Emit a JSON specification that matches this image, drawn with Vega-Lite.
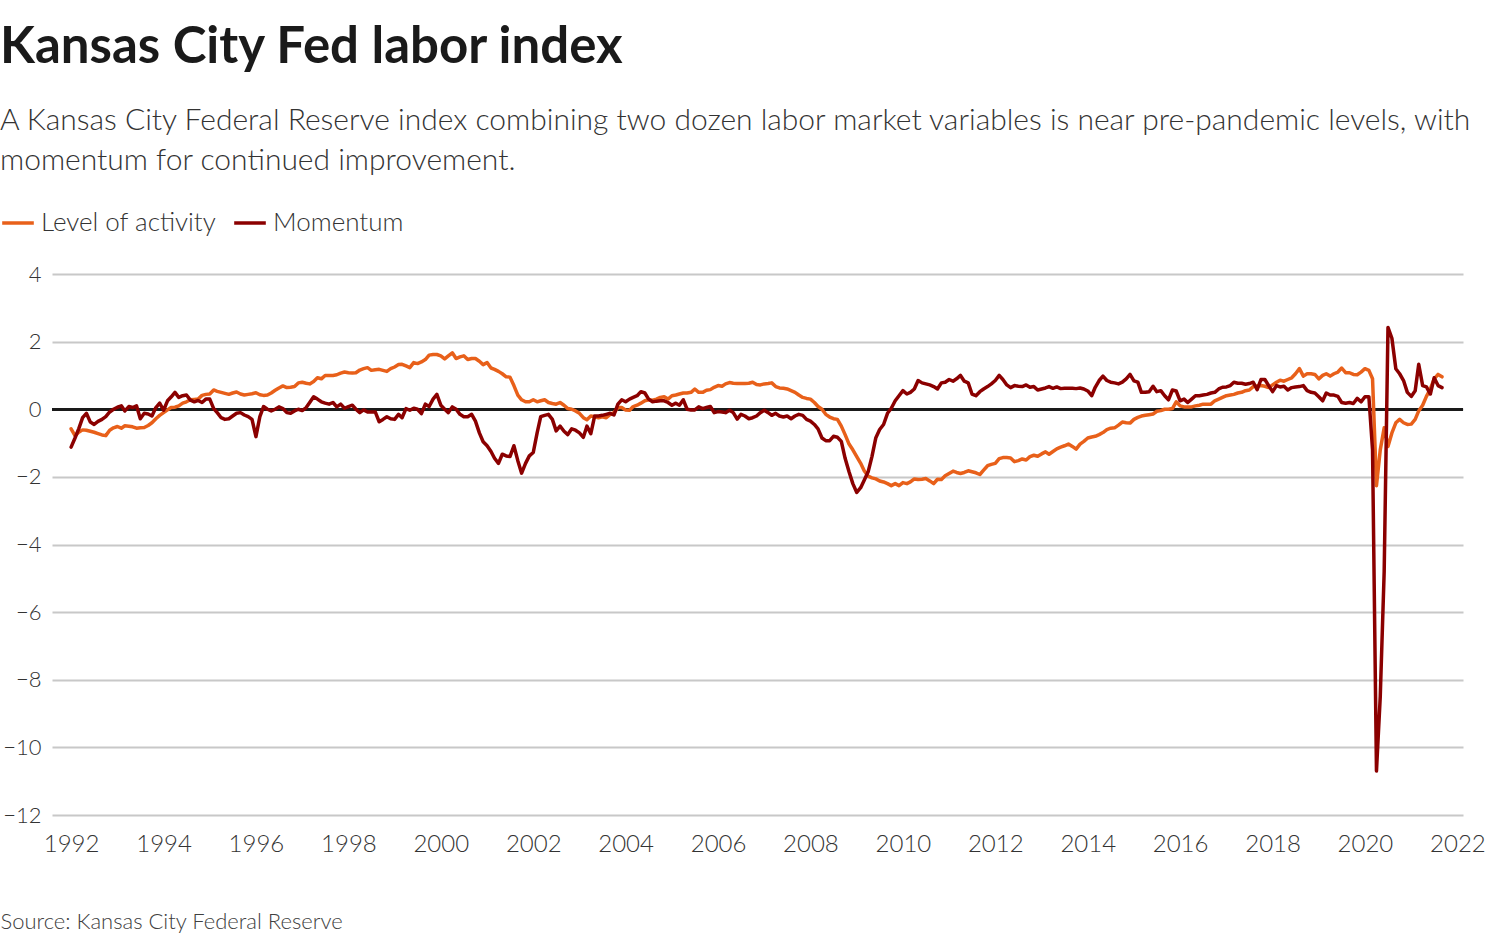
{
  "$schema": "https://vega.github.io/schema/vega-lite/v6.json",
  "autosize": {"type": "none"},
  "width": 1411,
  "height": 541,
  "padding": {"left": 52, "top": 274, "right": 27, "bottom": 123},
  "background": "white",
  "config": {
    "font": "Lato",
    "view": {"stroke": null},
    "axis": {"labelFont": "Lato", "labelFontWeight": 300, "labelColor": "#333333", "labelFontSize": 24, "ticks": false, "domain": false},
    "legend": {"labelFont": "Lato", "labelFontWeight": 300}
  },
  "title": {
    "text": "Kansas City Fed labor index",
    "subtitle": ["A Kansas City Federal Reserve index combining two dozen labor market variables is near pre-pandemic levels, with", "momentum for continued improvement."],
    "anchor": "start",
    "frame": "group",
    "orient": "top",
    "dx": -52,
    "offset": 28,
    "font": "Lato",
    "fontSize": 51,
    "fontWeight": "bold",
    "color": "#1a1a1a",
    "subtitleFont": "Lato",
    "subtitleFontSize": 30,
    "subtitleFontWeight": 300,
    "subtitleColor": "#333333",
    "subtitleLineHeight": 40,
    "subtitlePadding": 32
  },
  "datasets": {
    "kc": [
      {"date":"1992-01","Level of activity":-0.58,"Momentum":-1.12},
      {"date":"1992-02","Level of activity":-0.78,"Momentum":-0.85},
      {"date":"1992-03","Level of activity":-0.68,"Momentum":-0.58},
      {"date":"1992-04","Level of activity":-0.61,"Momentum":-0.25},
      {"date":"1992-05","Level of activity":-0.62,"Momentum":-0.12},
      {"date":"1992-06","Level of activity":-0.65,"Momentum":-0.38},
      {"date":"1992-07","Level of activity":-0.68,"Momentum":-0.45},
      {"date":"1992-08","Level of activity":-0.72,"Momentum":-0.36},
      {"date":"1992-09","Level of activity":-0.76,"Momentum":-0.3},
      {"date":"1992-10","Level of activity":-0.78,"Momentum":-0.22},
      {"date":"1992-11","Level of activity":-0.62,"Momentum":-0.08},
      {"date":"1992-12","Level of activity":-0.55,"Momentum":0.0},
      {"date":"1993-01","Level of activity":-0.51,"Momentum":0.06},
      {"date":"1993-02","Level of activity":-0.56,"Momentum":0.1},
      {"date":"1993-03","Level of activity":-0.49,"Momentum":-0.05},
      {"date":"1993-04","Level of activity":-0.5,"Momentum":0.08},
      {"date":"1993-05","Level of activity":-0.52,"Momentum":0.05},
      {"date":"1993-06","Level of activity":-0.56,"Momentum":0.1},
      {"date":"1993-07","Level of activity":-0.55,"Momentum":-0.28},
      {"date":"1993-08","Level of activity":-0.54,"Momentum":-0.12},
      {"date":"1993-09","Level of activity":-0.48,"Momentum":-0.14},
      {"date":"1993-10","Level of activity":-0.4,"Momentum":-0.2},
      {"date":"1993-11","Level of activity":-0.28,"Momentum":0.05},
      {"date":"1993-12","Level of activity":-0.18,"Momentum":0.18},
      {"date":"1994-01","Level of activity":-0.1,"Momentum":-0.03},
      {"date":"1994-02","Level of activity":-0.02,"Momentum":0.25},
      {"date":"1994-03","Level of activity":0.05,"Momentum":0.36},
      {"date":"1994-04","Level of activity":0.06,"Momentum":0.5},
      {"date":"1994-05","Level of activity":0.1,"Momentum":0.35},
      {"date":"1994-06","Level of activity":0.18,"Momentum":0.4},
      {"date":"1994-07","Level of activity":0.22,"Momentum":0.42},
      {"date":"1994-08","Level of activity":0.28,"Momentum":0.27},
      {"date":"1994-09","Level of activity":0.29,"Momentum":0.22},
      {"date":"1994-10","Level of activity":0.3,"Momentum":0.26},
      {"date":"1994-11","Level of activity":0.41,"Momentum":0.2},
      {"date":"1994-12","Level of activity":0.44,"Momentum":0.3},
      {"date":"1995-01","Level of activity":0.45,"Momentum":0.3},
      {"date":"1995-02","Level of activity":0.57,"Momentum":0.02},
      {"date":"1995-03","Level of activity":0.53,"Momentum":-0.1},
      {"date":"1995-04","Level of activity":0.5,"Momentum":-0.25},
      {"date":"1995-05","Level of activity":0.47,"Momentum":-0.3},
      {"date":"1995-06","Level of activity":0.44,"Momentum":-0.28},
      {"date":"1995-07","Level of activity":0.48,"Momentum":-0.2},
      {"date":"1995-08","Level of activity":0.51,"Momentum":-0.12},
      {"date":"1995-09","Level of activity":0.45,"Momentum":-0.1},
      {"date":"1995-10","Level of activity":0.42,"Momentum":-0.17},
      {"date":"1995-11","Level of activity":0.44,"Momentum":-0.22},
      {"date":"1995-12","Level of activity":0.46,"Momentum":-0.3},
      {"date":"1996-01","Level of activity":0.49,"Momentum":-0.81},
      {"date":"1996-02","Level of activity":0.43,"Momentum":-0.22},
      {"date":"1996-03","Level of activity":0.41,"Momentum":0.08},
      {"date":"1996-04","Level of activity":0.42,"Momentum":0.0},
      {"date":"1996-05","Level of activity":0.48,"Momentum":-0.05},
      {"date":"1996-06","Level of activity":0.56,"Momentum":0.0},
      {"date":"1996-07","Level of activity":0.63,"Momentum":0.07},
      {"date":"1996-08","Level of activity":0.69,"Momentum":0.02},
      {"date":"1996-09","Level of activity":0.64,"Momentum":-0.1},
      {"date":"1996-10","Level of activity":0.65,"Momentum":-0.12},
      {"date":"1996-11","Level of activity":0.67,"Momentum":-0.05},
      {"date":"1996-12","Level of activity":0.78,"Momentum":0.0},
      {"date":"1997-01","Level of activity":0.8,"Momentum":-0.04},
      {"date":"1997-02","Level of activity":0.77,"Momentum":0.05},
      {"date":"1997-03","Level of activity":0.75,"Momentum":0.2},
      {"date":"1997-04","Level of activity":0.82,"Momentum":0.37},
      {"date":"1997-05","Level of activity":0.93,"Momentum":0.3},
      {"date":"1997-06","Level of activity":0.9,"Momentum":0.22},
      {"date":"1997-07","Level of activity":1.0,"Momentum":0.18},
      {"date":"1997-08","Level of activity":1.0,"Momentum":0.15},
      {"date":"1997-09","Level of activity":1.0,"Momentum":0.2},
      {"date":"1997-10","Level of activity":1.02,"Momentum":0.07},
      {"date":"1997-11","Level of activity":1.07,"Momentum":0.15},
      {"date":"1997-12","Level of activity":1.1,"Momentum":0.03},
      {"date":"1998-01","Level of activity":1.08,"Momentum":0.08},
      {"date":"1998-02","Level of activity":1.07,"Momentum":0.12},
      {"date":"1998-03","Level of activity":1.08,"Momentum":0.0},
      {"date":"1998-04","Level of activity":1.16,"Momentum":-0.1},
      {"date":"1998-05","Level of activity":1.2,"Momentum":-0.02},
      {"date":"1998-06","Level of activity":1.23,"Momentum":-0.08},
      {"date":"1998-07","Level of activity":1.15,"Momentum":-0.08},
      {"date":"1998-08","Level of activity":1.17,"Momentum":-0.08},
      {"date":"1998-09","Level of activity":1.18,"Momentum":-0.37},
      {"date":"1998-10","Level of activity":1.15,"Momentum":-0.3},
      {"date":"1998-11","Level of activity":1.12,"Momentum":-0.22},
      {"date":"1998-12","Level of activity":1.2,"Momentum":-0.28},
      {"date":"1999-01","Level of activity":1.25,"Momentum":-0.3},
      {"date":"1999-02","Level of activity":1.32,"Momentum":-0.15},
      {"date":"1999-03","Level of activity":1.33,"Momentum":-0.25},
      {"date":"1999-04","Level of activity":1.28,"Momentum":0.02},
      {"date":"1999-05","Level of activity":1.23,"Momentum":-0.03},
      {"date":"1999-06","Level of activity":1.38,"Momentum":0.03},
      {"date":"1999-07","Level of activity":1.35,"Momentum":0.0},
      {"date":"1999-08","Level of activity":1.4,"Momentum":-0.13},
      {"date":"1999-09","Level of activity":1.47,"Momentum":0.15},
      {"date":"1999-10","Level of activity":1.6,"Momentum":0.08},
      {"date":"1999-11","Level of activity":1.62,"Momentum":0.3},
      {"date":"1999-12","Level of activity":1.62,"Momentum":0.44},
      {"date":"2000-01","Level of activity":1.58,"Momentum":0.12},
      {"date":"2000-02","Level of activity":1.49,"Momentum":0.0},
      {"date":"2000-03","Level of activity":1.58,"Momentum":-0.1},
      {"date":"2000-04","Level of activity":1.67,"Momentum":0.07},
      {"date":"2000-05","Level of activity":1.5,"Momentum":0.0},
      {"date":"2000-06","Level of activity":1.55,"Momentum":-0.15},
      {"date":"2000-07","Level of activity":1.58,"Momentum":-0.22},
      {"date":"2000-08","Level of activity":1.47,"Momentum":-0.22},
      {"date":"2000-09","Level of activity":1.5,"Momentum":-0.15},
      {"date":"2000-10","Level of activity":1.5,"Momentum":-0.35},
      {"date":"2000-11","Level of activity":1.42,"Momentum":-0.7},
      {"date":"2000-12","Level of activity":1.32,"Momentum":-0.96},
      {"date":"2001-01","Level of activity":1.38,"Momentum":-1.08},
      {"date":"2001-02","Level of activity":1.22,"Momentum":-1.25},
      {"date":"2001-03","Level of activity":1.18,"Momentum":-1.45},
      {"date":"2001-04","Level of activity":1.12,"Momentum":-1.6},
      {"date":"2001-05","Level of activity":1.05,"Momentum":-1.33},
      {"date":"2001-06","Level of activity":0.96,"Momentum":-1.38},
      {"date":"2001-07","Level of activity":0.95,"Momentum":-1.4},
      {"date":"2001-08","Level of activity":0.7,"Momentum":-1.08},
      {"date":"2001-09","Level of activity":0.42,"Momentum":-1.52},
      {"date":"2001-10","Level of activity":0.28,"Momentum":-1.89},
      {"date":"2001-11","Level of activity":0.22,"Momentum":-1.6},
      {"date":"2001-12","Level of activity":0.22,"Momentum":-1.38},
      {"date":"2002-01","Level of activity":0.28,"Momentum":-1.28},
      {"date":"2002-02","Level of activity":0.22,"Momentum":-0.69},
      {"date":"2002-03","Level of activity":0.25,"Momentum":-0.22},
      {"date":"2002-04","Level of activity":0.28,"Momentum":-0.18},
      {"date":"2002-05","Level of activity":0.2,"Momentum":-0.15},
      {"date":"2002-06","Level of activity":0.17,"Momentum":-0.3},
      {"date":"2002-07","Level of activity":0.15,"Momentum":-0.64},
      {"date":"2002-08","Level of activity":0.2,"Momentum":-0.5},
      {"date":"2002-09","Level of activity":0.12,"Momentum":-0.65},
      {"date":"2002-10","Level of activity":0.02,"Momentum":-0.75},
      {"date":"2002-11","Level of activity":0.0,"Momentum":-0.58},
      {"date":"2002-12","Level of activity":-0.05,"Momentum":-0.62},
      {"date":"2003-01","Level of activity":-0.12,"Momentum":-0.7},
      {"date":"2003-02","Level of activity":-0.25,"Momentum":-0.83},
      {"date":"2003-03","Level of activity":-0.31,"Momentum":-0.5},
      {"date":"2003-04","Level of activity":-0.2,"Momentum":-0.72},
      {"date":"2003-05","Level of activity":-0.22,"Momentum":-0.2},
      {"date":"2003-06","Level of activity":-0.25,"Momentum":-0.2},
      {"date":"2003-07","Level of activity":-0.22,"Momentum":-0.18},
      {"date":"2003-08","Level of activity":-0.25,"Momentum":-0.15},
      {"date":"2003-09","Level of activity":-0.15,"Momentum":-0.12},
      {"date":"2003-10","Level of activity":-0.1,"Momentum":-0.17},
      {"date":"2003-11","Level of activity":0.05,"Momentum":0.15},
      {"date":"2003-12","Level of activity":0.05,"Momentum":0.28},
      {"date":"2004-01","Level of activity":-0.02,"Momentum":0.22},
      {"date":"2004-02","Level of activity":-0.03,"Momentum":0.3},
      {"date":"2004-03","Level of activity":0.08,"Momentum":0.35},
      {"date":"2004-04","Level of activity":0.12,"Momentum":0.4},
      {"date":"2004-05","Level of activity":0.18,"Momentum":0.52},
      {"date":"2004-06","Level of activity":0.25,"Momentum":0.48},
      {"date":"2004-07","Level of activity":0.28,"Momentum":0.3},
      {"date":"2004-08","Level of activity":0.27,"Momentum":0.22},
      {"date":"2004-09","Level of activity":0.3,"Momentum":0.24},
      {"date":"2004-10","Level of activity":0.35,"Momentum":0.25},
      {"date":"2004-11","Level of activity":0.37,"Momentum":0.25},
      {"date":"2004-12","Level of activity":0.3,"Momentum":0.2},
      {"date":"2005-01","Level of activity":0.4,"Momentum":0.12},
      {"date":"2005-02","Level of activity":0.42,"Momentum":0.18},
      {"date":"2005-03","Level of activity":0.45,"Momentum":0.12},
      {"date":"2005-04","Level of activity":0.48,"Momentum":0.28},
      {"date":"2005-05","Level of activity":0.48,"Momentum":0.0},
      {"date":"2005-06","Level of activity":0.5,"Momentum":-0.02},
      {"date":"2005-07","Level of activity":0.6,"Momentum":-0.02},
      {"date":"2005-08","Level of activity":0.5,"Momentum":0.07},
      {"date":"2005-09","Level of activity":0.5,"Momentum":0.02},
      {"date":"2005-10","Level of activity":0.56,"Momentum":0.05},
      {"date":"2005-11","Level of activity":0.58,"Momentum":0.08},
      {"date":"2005-12","Level of activity":0.65,"Momentum":-0.1},
      {"date":"2006-01","Level of activity":0.7,"Momentum":-0.07},
      {"date":"2006-02","Level of activity":0.68,"Momentum":-0.08},
      {"date":"2006-03","Level of activity":0.75,"Momentum":-0.1},
      {"date":"2006-04","Level of activity":0.79,"Momentum":-0.03},
      {"date":"2006-05","Level of activity":0.77,"Momentum":-0.1},
      {"date":"2006-06","Level of activity":0.76,"Momentum":-0.29},
      {"date":"2006-07","Level of activity":0.76,"Momentum":-0.15},
      {"date":"2006-08","Level of activity":0.76,"Momentum":-0.2},
      {"date":"2006-09","Level of activity":0.77,"Momentum":-0.28},
      {"date":"2006-10","Level of activity":0.8,"Momentum":-0.25},
      {"date":"2006-11","Level of activity":0.73,"Momentum":-0.2},
      {"date":"2006-12","Level of activity":0.72,"Momentum":-0.1},
      {"date":"2007-01","Level of activity":0.75,"Momentum":-0.03},
      {"date":"2007-02","Level of activity":0.76,"Momentum":-0.1},
      {"date":"2007-03","Level of activity":0.78,"Momentum":-0.18},
      {"date":"2007-04","Level of activity":0.67,"Momentum":-0.12},
      {"date":"2007-05","Level of activity":0.63,"Momentum":-0.2},
      {"date":"2007-06","Level of activity":0.62,"Momentum":-0.23},
      {"date":"2007-07","Level of activity":0.6,"Momentum":-0.2},
      {"date":"2007-08","Level of activity":0.55,"Momentum":-0.28},
      {"date":"2007-09","Level of activity":0.5,"Momentum":-0.2},
      {"date":"2007-10","Level of activity":0.42,"Momentum":-0.15},
      {"date":"2007-11","Level of activity":0.35,"Momentum":-0.18},
      {"date":"2007-12","Level of activity":0.32,"Momentum":-0.3},
      {"date":"2008-01","Level of activity":0.3,"Momentum":-0.35},
      {"date":"2008-02","Level of activity":0.2,"Momentum":-0.45},
      {"date":"2008-03","Level of activity":0.08,"Momentum":-0.58},
      {"date":"2008-04","Level of activity":0.0,"Momentum":-0.85},
      {"date":"2008-05","Level of activity":-0.15,"Momentum":-0.93},
      {"date":"2008-06","Level of activity":-0.23,"Momentum":-0.93},
      {"date":"2008-07","Level of activity":-0.28,"Momentum":-0.8},
      {"date":"2008-08","Level of activity":-0.3,"Momentum":-0.83},
      {"date":"2008-09","Level of activity":-0.5,"Momentum":-0.95},
      {"date":"2008-10","Level of activity":-0.75,"Momentum":-1.45},
      {"date":"2008-11","Level of activity":-1.03,"Momentum":-1.85},
      {"date":"2008-12","Level of activity":-1.2,"Momentum":-2.2},
      {"date":"2009-01","Level of activity":-1.4,"Momentum":-2.46},
      {"date":"2009-02","Level of activity":-1.6,"Momentum":-2.32},
      {"date":"2009-03","Level of activity":-1.82,"Momentum":-2.1},
      {"date":"2009-04","Level of activity":-1.98,"Momentum":-1.85},
      {"date":"2009-05","Level of activity":-2.03,"Momentum":-1.4},
      {"date":"2009-06","Level of activity":-2.06,"Momentum":-0.84},
      {"date":"2009-07","Level of activity":-2.12,"Momentum":-0.6},
      {"date":"2009-08","Level of activity":-2.15,"Momentum":-0.45},
      {"date":"2009-09","Level of activity":-2.2,"Momentum":-0.12},
      {"date":"2009-10","Level of activity":-2.26,"Momentum":0.03},
      {"date":"2009-11","Level of activity":-2.2,"Momentum":0.25},
      {"date":"2009-12","Level of activity":-2.26,"Momentum":0.4},
      {"date":"2010-01","Level of activity":-2.17,"Momentum":0.55},
      {"date":"2010-02","Level of activity":-2.2,"Momentum":0.45},
      {"date":"2010-03","Level of activity":-2.15,"Momentum":0.5},
      {"date":"2010-04","Level of activity":-2.06,"Momentum":0.6},
      {"date":"2010-05","Level of activity":-2.08,"Momentum":0.85},
      {"date":"2010-06","Level of activity":-2.07,"Momentum":0.78},
      {"date":"2010-07","Level of activity":-2.05,"Momentum":0.75},
      {"date":"2010-08","Level of activity":-2.12,"Momentum":0.72},
      {"date":"2010-09","Level of activity":-2.2,"Momentum":0.67},
      {"date":"2010-10","Level of activity":-2.07,"Momentum":0.6},
      {"date":"2010-11","Level of activity":-2.08,"Momentum":0.78},
      {"date":"2010-12","Level of activity":-1.97,"Momentum":0.8},
      {"date":"2011-01","Level of activity":-1.9,"Momentum":0.88},
      {"date":"2011-02","Level of activity":-1.83,"Momentum":0.83},
      {"date":"2011-03","Level of activity":-1.87,"Momentum":0.9},
      {"date":"2011-04","Level of activity":-1.9,"Momentum":1.0},
      {"date":"2011-05","Level of activity":-1.87,"Momentum":0.83},
      {"date":"2011-06","Level of activity":-1.82,"Momentum":0.78},
      {"date":"2011-07","Level of activity":-1.85,"Momentum":0.45},
      {"date":"2011-08","Level of activity":-1.88,"Momentum":0.4},
      {"date":"2011-09","Level of activity":-1.93,"Momentum":0.52},
      {"date":"2011-10","Level of activity":-1.8,"Momentum":0.6},
      {"date":"2011-11","Level of activity":-1.67,"Momentum":0.67},
      {"date":"2011-12","Level of activity":-1.63,"Momentum":0.75},
      {"date":"2012-01","Level of activity":-1.6,"Momentum":0.85},
      {"date":"2012-02","Level of activity":-1.46,"Momentum":1.0},
      {"date":"2012-03","Level of activity":-1.43,"Momentum":0.88},
      {"date":"2012-04","Level of activity":-1.43,"Momentum":0.72},
      {"date":"2012-05","Level of activity":-1.44,"Momentum":0.64},
      {"date":"2012-06","Level of activity":-1.55,"Momentum":0.7},
      {"date":"2012-07","Level of activity":-1.52,"Momentum":0.68},
      {"date":"2012-08","Level of activity":-1.47,"Momentum":0.67},
      {"date":"2012-09","Level of activity":-1.5,"Momentum":0.72},
      {"date":"2012-10","Level of activity":-1.4,"Momentum":0.65},
      {"date":"2012-11","Level of activity":-1.36,"Momentum":0.67},
      {"date":"2012-12","Level of activity":-1.39,"Momentum":0.57},
      {"date":"2013-01","Level of activity":-1.32,"Momentum":0.6},
      {"date":"2013-02","Level of activity":-1.26,"Momentum":0.63},
      {"date":"2013-03","Level of activity":-1.33,"Momentum":0.67},
      {"date":"2013-04","Level of activity":-1.25,"Momentum":0.62},
      {"date":"2013-05","Level of activity":-1.17,"Momentum":0.66},
      {"date":"2013-06","Level of activity":-1.12,"Momentum":0.61},
      {"date":"2013-07","Level of activity":-1.08,"Momentum":0.62},
      {"date":"2013-08","Level of activity":-1.03,"Momentum":0.62},
      {"date":"2013-09","Level of activity":-1.1,"Momentum":0.62},
      {"date":"2013-10","Level of activity":-1.18,"Momentum":0.61},
      {"date":"2013-11","Level of activity":-1.03,"Momentum":0.63},
      {"date":"2013-12","Level of activity":-0.95,"Momentum":0.6},
      {"date":"2014-01","Level of activity":-0.85,"Momentum":0.54},
      {"date":"2014-02","Level of activity":-0.82,"Momentum":0.4},
      {"date":"2014-03","Level of activity":-0.8,"Momentum":0.65},
      {"date":"2014-04","Level of activity":-0.75,"Momentum":0.85},
      {"date":"2014-05","Level of activity":-0.69,"Momentum":0.98},
      {"date":"2014-06","Level of activity":-0.6,"Momentum":0.85},
      {"date":"2014-07","Level of activity":-0.56,"Momentum":0.8},
      {"date":"2014-08","Level of activity":-0.55,"Momentum":0.78},
      {"date":"2014-09","Level of activity":-0.47,"Momentum":0.75},
      {"date":"2014-10","Level of activity":-0.38,"Momentum":0.8},
      {"date":"2014-11","Level of activity":-0.4,"Momentum":0.9},
      {"date":"2014-12","Level of activity":-0.41,"Momentum":1.03},
      {"date":"2015-01","Level of activity":-0.3,"Momentum":0.84},
      {"date":"2015-02","Level of activity":-0.24,"Momentum":0.8},
      {"date":"2015-03","Level of activity":-0.2,"Momentum":0.5},
      {"date":"2015-04","Level of activity":-0.18,"Momentum":0.5},
      {"date":"2015-05","Level of activity":-0.16,"Momentum":0.52},
      {"date":"2015-06","Level of activity":-0.14,"Momentum":0.68},
      {"date":"2015-07","Level of activity":-0.06,"Momentum":0.52},
      {"date":"2015-08","Level of activity":-0.04,"Momentum":0.55},
      {"date":"2015-09","Level of activity":0.0,"Momentum":0.4},
      {"date":"2015-10","Level of activity":0.0,"Momentum":0.28},
      {"date":"2015-11","Level of activity":0.02,"Momentum":0.57},
      {"date":"2015-12","Level of activity":0.22,"Momentum":0.54},
      {"date":"2016-01","Level of activity":0.1,"Momentum":0.25},
      {"date":"2016-02","Level of activity":0.07,"Momentum":0.3},
      {"date":"2016-03","Level of activity":0.07,"Momentum":0.2},
      {"date":"2016-04","Level of activity":0.07,"Momentum":0.3},
      {"date":"2016-05","Level of activity":0.1,"Momentum":0.4},
      {"date":"2016-06","Level of activity":0.12,"Momentum":0.4},
      {"date":"2016-07","Level of activity":0.15,"Momentum":0.42},
      {"date":"2016-08","Level of activity":0.15,"Momentum":0.44},
      {"date":"2016-09","Level of activity":0.15,"Momentum":0.48},
      {"date":"2016-10","Level of activity":0.25,"Momentum":0.5},
      {"date":"2016-11","Level of activity":0.3,"Momentum":0.6},
      {"date":"2016-12","Level of activity":0.35,"Momentum":0.65},
      {"date":"2017-01","Level of activity":0.4,"Momentum":0.66},
      {"date":"2017-02","Level of activity":0.42,"Momentum":0.7},
      {"date":"2017-03","Level of activity":0.44,"Momentum":0.8},
      {"date":"2017-04","Level of activity":0.48,"Momentum":0.77},
      {"date":"2017-05","Level of activity":0.5,"Momentum":0.77},
      {"date":"2017-06","Level of activity":0.55,"Momentum":0.74},
      {"date":"2017-07","Level of activity":0.57,"Momentum":0.76},
      {"date":"2017-08","Level of activity":0.67,"Momentum":0.8},
      {"date":"2017-09","Level of activity":0.69,"Momentum":0.58},
      {"date":"2017-10","Level of activity":0.7,"Momentum":0.88},
      {"date":"2017-11","Level of activity":0.68,"Momentum":0.88},
      {"date":"2017-12","Level of activity":0.64,"Momentum":0.7},
      {"date":"2018-01","Level of activity":0.72,"Momentum":0.52},
      {"date":"2018-02","Level of activity":0.8,"Momentum":0.7},
      {"date":"2018-03","Level of activity":0.86,"Momentum":0.66},
      {"date":"2018-04","Level of activity":0.83,"Momentum":0.68},
      {"date":"2018-05","Level of activity":0.88,"Momentum":0.57},
      {"date":"2018-06","Level of activity":0.93,"Momentum":0.64},
      {"date":"2018-07","Level of activity":1.05,"Momentum":0.66},
      {"date":"2018-08","Level of activity":1.2,"Momentum":0.67},
      {"date":"2018-09","Level of activity":0.98,"Momentum":0.7},
      {"date":"2018-10","Level of activity":1.05,"Momentum":0.55},
      {"date":"2018-11","Level of activity":1.05,"Momentum":0.5},
      {"date":"2018-12","Level of activity":1.03,"Momentum":0.48},
      {"date":"2019-01","Level of activity":0.9,"Momentum":0.37},
      {"date":"2019-02","Level of activity":1.0,"Momentum":0.25},
      {"date":"2019-03","Level of activity":1.05,"Momentum":0.48},
      {"date":"2019-04","Level of activity":0.98,"Momentum":0.42},
      {"date":"2019-05","Level of activity":1.05,"Momentum":0.42},
      {"date":"2019-06","Level of activity":1.1,"Momentum":0.38},
      {"date":"2019-07","Level of activity":1.22,"Momentum":0.2},
      {"date":"2019-08","Level of activity":1.08,"Momentum":0.18},
      {"date":"2019-09","Level of activity":1.08,"Momentum":0.2},
      {"date":"2019-10","Level of activity":1.03,"Momentum":0.17},
      {"date":"2019-11","Level of activity":1.02,"Momentum":0.32},
      {"date":"2019-12","Level of activity":1.1,"Momentum":0.22},
      {"date":"2020-01","Level of activity":1.2,"Momentum":0.37},
      {"date":"2020-02","Level of activity":1.15,"Momentum":0.37},
      {"date":"2020-03","Level of activity":0.9,"Momentum":-1.2},
      {"date":"2020-04","Level of activity":-2.26,"Momentum":-10.7},
      {"date":"2020-05","Level of activity":-1.2,"Momentum":-8.5},
      {"date":"2020-06","Level of activity":-0.55,"Momentum":-4.8},
      {"date":"2020-07","Level of activity":-1.1,"Momentum":2.42},
      {"date":"2020-08","Level of activity":-0.7,"Momentum":2.1},
      {"date":"2020-09","Level of activity":-0.4,"Momentum":1.2},
      {"date":"2020-10","Level of activity":-0.3,"Momentum":1.05},
      {"date":"2020-11","Level of activity":-0.4,"Momentum":0.85},
      {"date":"2020-12","Level of activity":-0.45,"Momentum":0.5},
      {"date":"2021-01","Level of activity":-0.44,"Momentum":0.38},
      {"date":"2021-02","Level of activity":-0.3,"Momentum":0.55},
      {"date":"2021-03","Level of activity":-0.05,"Momentum":1.33},
      {"date":"2021-04","Level of activity":0.12,"Momentum":0.7},
      {"date":"2021-05","Level of activity":0.38,"Momentum":0.66},
      {"date":"2021-06","Level of activity":0.6,"Momentum":0.45},
      {"date":"2021-07","Level of activity":0.9,"Momentum":0.93},
      {"date":"2021-08","Level of activity":1.03,"Momentum":0.7},
      {"date":"2021-09","Level of activity":0.96,"Momentum":0.64}
    ]
  },
  "data": {"name": "kc", "format": {"parse": {"date": "date:'%Y-%m'"}}},
  "layer": [
    {
      "mark": {"type": "rule", "color": "#1a1a1a", "strokeWidth": 2.5},
      "encoding": {"y": {"datum": 0, "type": "quantitative"}}
    },
    {
      "transform": [{"fold": ["Level of activity", "Momentum"], "as": ["series", "value"]}],
      "mark": {"type": "line", "strokeWidth": 3.5, "strokeJoin": "round", "strokeCap": "round"},
      "encoding": {
        "x": {
          "field": "date",
          "type": "temporal",
          "scale": {"domain": [{"year": 1991, "month": 8, "date": 3}, {"year": 2022, "month": 2, "date": 14}], "nice": false},
          "axis": {
            "format": "%Y",
            "tickCount": {"interval": "year", "step": 2},
            "grid": false,
            "labelPadding": 17,
            "labelFlush": false,
            "title": "Source: Kansas City Federal Reserve",
            "titleFont": "Lato",
            "titleFontWeight": 300,
            "titleFontSize": 22,
            "titleColor": "#404040",
            "titleAnchor": "start",
            "titleAlign": "left",
            "titleBaseline": "alphabetic",
            "titleX": -52,
            "titleY": 113
          }
        },
        "y": {
          "field": "value",
          "type": "quantitative",
          "scale": {"domain": [-12, 4], "nice": false},
          "axis": {
            "values": [-12, -10, -8, -6, -4, -2, 0, 2, 4],
            "grid": true,
            "gridColor": "#c8c8c8",
            "gridWidth": 2,
            "labelFontSize": 22,
            "labelPadding": 11,
            "title": null
          }
        },
        "color": {
          "field": "series",
          "type": "nominal",
          "scale": {"domain": ["Level of activity", "Momentum"], "range": ["#e8601a", "#8b0000"]},
          "legend": {
            "title": null,
            "orient": "none",
            "legendX": -52,
            "legendY": -69,
            "direction": "horizontal",
            "symbolType": "stroke",
            "symbolSize": 1000,
            "symbolStrokeWidth": 3.5,
            "labelFontSize": 26,
            "labelLimit": 400,
            "labelColor": "#333333",
            "columnPadding": 10,
            "labelOffset": 5
          }
        }
      }
    }
  ]
}
